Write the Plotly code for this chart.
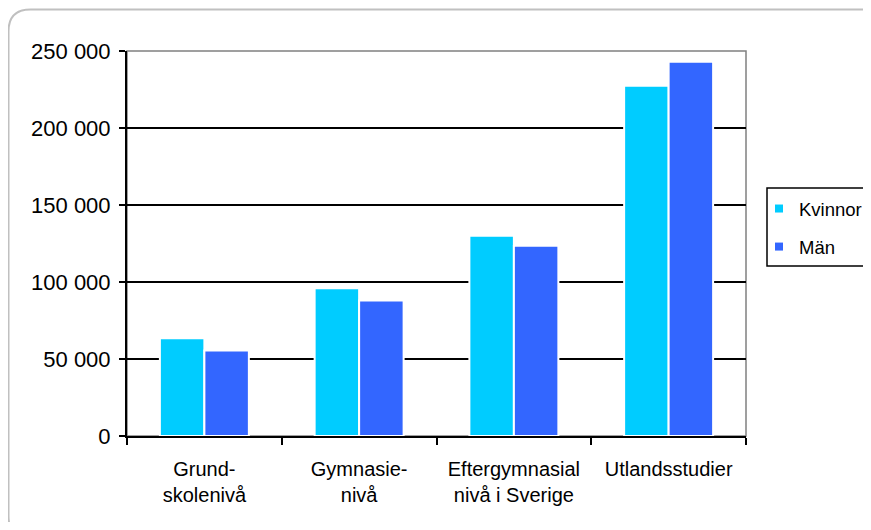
import plotly.graph_objects as go

# data
categories = ["Grund-<br>skolenivå", "Gymnasie-<br>nivå", "Eftergymnasial<br>nivå i Sverige", "Utlandsstudier"]
kvinnor = [63500, 96000, 130000, 227500]
man = [55500, 88000, 123500, 243000]
series_names = ["Kvinnor", "Män"]
colors = ["#00CCFF", "#3366FF"]

# the page body has an 8px margin, so everything is laid out 8px up/left
OFF = 8
W, H = 871 - 2 * OFF, 530 - 2 * OFF
L, R, T, B = 127 - OFF, 746 - OFF, 51 - OFF, 436 - OFF  # plot area in pixels


def px(x):
    return (x - OFF - L) / (R - L)


def py(y):
    return (B - (y - OFF)) / (B - T)


fig = go.Figure()
for name, vals, col in zip(series_names, [kvinnor, man], colors):
    fig.add_trace(go.Bar(x=categories, y=vals, name=name, showlegend=False,
                         marker=dict(color=col, line=dict(color="white", width=2))))
    # legend-only entry with a small square symbol
    fig.add_trace(go.Scatter(x=[None], y=[None], name=name, mode="markers",
                             marker=dict(symbol="square", size=8, color=col),
                             legendgroup=name))

# rounded outer border (cropped at right/bottom as in reference)
x0, y0, x1, y1, r = 8.5, 9.5, 882, 538, 22
path = (f"M {px(x0)},{py(y0 + r)} Q {px(x0)},{py(y0)} {px(x0 + r)},{py(y0)} "
        f"L {px(x1 - r)},{py(y0)} Q {px(x1)},{py(y0)} {px(x1)},{py(y0 + r)} "
        f"L {px(x1)},{py(y1 - r)} Q {px(x1)},{py(y1)} {px(x1 - r)},{py(y1)} "
        f"L {px(x0 + r)},{py(y1)} Q {px(x0)},{py(y1)} {px(x0)},{py(y1 - r)} Z")
fig.add_shape(type="path", path=path, xref="paper", yref="paper",
              line=dict(color="#C0C0C0", width=2), layer="below")

# gray frame on top/right of the plot area
fig.add_shape(type="rect", xref="paper", yref="paper", x0=0, y0=0, x1=1, y1=1,
              line=dict(color="#808080", width=1.5), layer="below")

# legend box
fig.add_shape(type="rect", xref="paper", yref="paper",
              x0=px(767), y0=py(266), x1=px(885), y1=py(188),
              line=dict(color="black", width=1.5))

fig.update_layout(
    width=W, height=H,
    margin=dict(l=L, r=W - R, t=T, b=H - B),
    paper_bgcolor="white", plot_bgcolor="white",
    font=dict(family="Liberation Sans, Arial, sans-serif", size=20, color="black"),
    separators=", ",
    barmode="group", bargap=0.425, bargroupgap=0,
    legend=dict(xref="container", yref="container",
                x=(759 - OFF) / W, y=1 - (190 - OFF) / H,
                xanchor="left", yanchor="top",
                bgcolor="rgba(0,0,0,0)", font=dict(size=18.5),
                traceorder="grouped", tracegroupgap=11, itemwidth=30),
    xaxis=dict(showline=True, linecolor="black", linewidth=2,
               ticks="outside", ticklen=7, tickcolor="black", tickwidth=2,
               tickson="boundaries", showgrid=False, ticklabelstandoff=14),
    yaxis=dict(range=[0, 250000], dtick=50000, tickformat=",d",
               showline=True, linecolor="black", linewidth=2,
               ticks="outside", ticklen=6, tickcolor="black", tickwidth=2,
               showgrid=True, gridcolor="black", gridwidth=1.5, zeroline=False,
               ticklabelstandoff=4, tickfont=dict(size=22)),
)

fig.write_html("out.html")
